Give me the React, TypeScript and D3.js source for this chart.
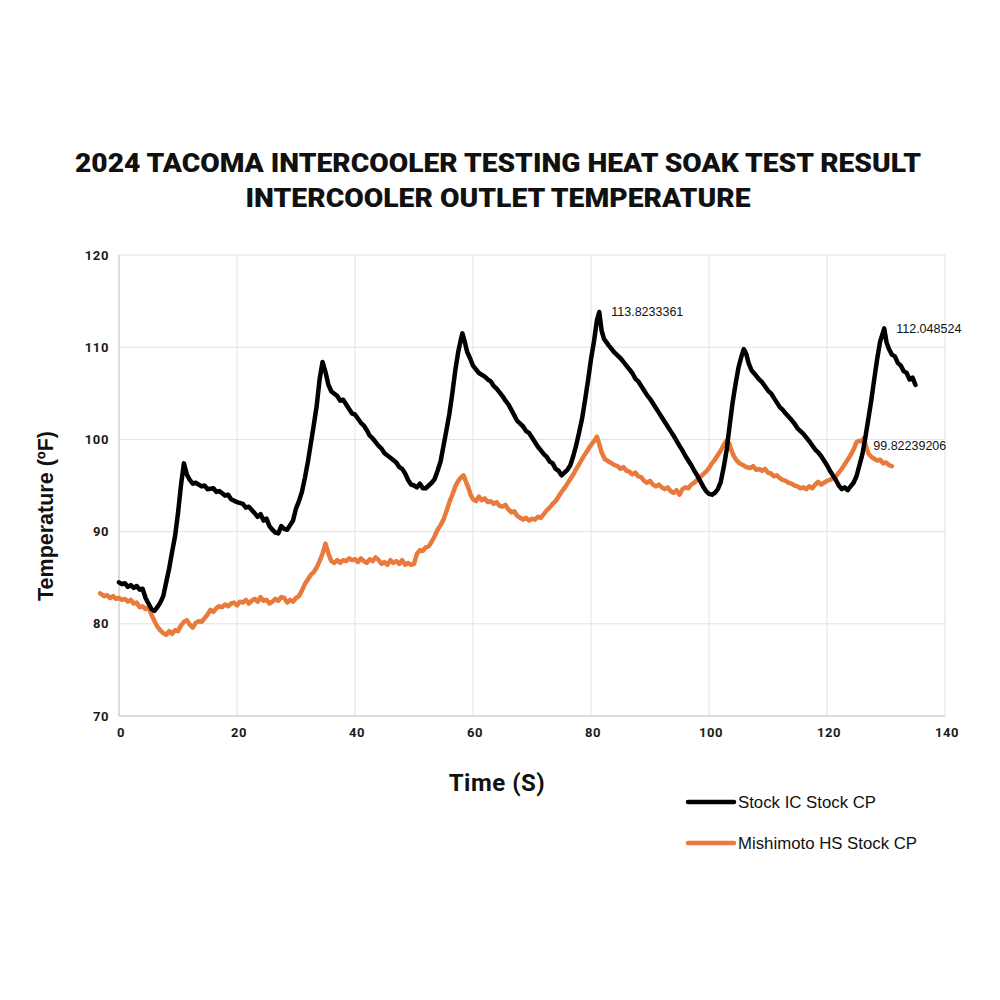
import React from 'react';
import * as d3 from 'd3';

// Stock IC Stock CP (black)
const stockTime = [
  0, 0.5, 1, 1.5, 2, 2.5, 3, 3.5, 4, 4.5, 5, 5.5, 6, 6.5, 7, 7.5, 8, 8.5, 9, 9.5, 10, 10.5, 11, 11.5, 12, 12.5,
  13, 14, 14.5, 15, 16, 16.5, 17, 18, 18.5, 19, 20, 21, 21.5, 22, 23, 23.5, 24, 24.5, 25, 25.5, 26, 26.5, 27,
  27.5, 28, 28.5, 29, 29.5, 30, 30.5, 31, 31.5, 32, 32.5, 33, 33.5, 34, 34.5, 35, 35.5, 36, 37, 37.5, 38, 39,
  39.5, 40, 41, 41.5, 42, 42.5, 43, 44, 44.5, 45, 46, 47, 47.5, 48, 48.5, 49, 49.5, 50, 50.5, 51, 51.5, 52,
  52.5, 53, 53.5, 54, 54.5, 55, 55.5, 56, 56.5, 57, 57.5, 58, 58.2, 58.6, 59, 59.5, 60, 60.5, 61, 62, 62.5,
  63, 63.5, 64, 65, 65.5, 66, 67, 67.5, 68, 68.5, 69, 69.5, 70, 71, 71.5, 72, 72.5, 73, 73.5, 74, 74.5, 75,
  75.5, 76, 76.5, 77, 77.5, 78, 78.5, 79, 79.5, 80, 80.5, 81, 81.4, 81.8, 82.2, 83, 84, 85, 85.5, 86, 87,
  87.5, 88, 89, 89.5, 90, 91, 91.5, 92, 93, 93.5, 94, 95, 95.5, 96, 97, 97.5, 98, 98.5, 99, 99.5, 100, 100.5,
  101, 101.5, 102, 102.5, 103, 103.5, 104, 104.5, 105, 105.5, 105.9, 106.3, 106.7, 107.2, 108, 108.5, 109,
  110, 110.5, 111, 112, 112.5, 113, 114, 114.5, 115, 116, 116.5, 117, 118, 118.5, 119, 120, 120.5, 121,
  121.5, 122, 122.5, 123, 123.5, 124, 124.5, 125, 125.5, 126, 126.5, 127, 127.5, 128, 128.5, 129, 129.4,
  129.7, 130.1, 130.5, 131, 131.5, 132, 132.5, 133, 133.5, 134, 134.5, 135,
];
const stockTemp = [
  84.5, 84.3, 84.4, 84.0, 84.2, 83.9, 84.1, 83.7, 83.8, 82.8, 82.2, 81.6, 81.4, 81.8, 82.3, 83.0, 84.5, 86.0,
  87.8, 89.5, 92.0, 95.0, 97.4, 96.2, 95.6, 95.2, 95.3, 94.9, 95.0, 94.6, 94.7, 94.3, 94.4, 93.9, 94.0, 93.5,
  93.2, 93.0, 92.6, 92.7, 92.0, 91.6, 91.9, 91.2, 91.4, 90.6, 90.2, 89.9, 89.8, 90.6, 90.3, 90.2, 90.7, 91.2,
  92.5, 93.3, 94.3, 95.8, 97.5, 99.5, 101.5, 103.6, 106.5, 108.4, 107.3, 105.9, 105.2, 104.7, 104.2, 104.3,
  103.3, 102.8, 102.7, 101.8, 101.5, 101.0, 100.4, 100.1, 99.3, 99.0, 98.5, 98.0, 97.5, 97.0, 96.8, 96.3,
  95.6, 95.1, 95.0, 94.8, 95.2, 94.7, 94.7, 95.0, 95.3, 95.7, 96.6, 97.6, 99.3, 101.0, 102.8, 105.0, 107.5,
  109.5, 111.0, 111.5, 110.6, 109.5, 108.8, 108.0, 107.6, 107.2, 106.8, 106.5, 106.3, 105.8, 105.5, 104.7,
  104.2, 103.8, 102.6, 102.0, 101.7, 101.4, 100.9, 100.7, 100.2, 99.2, 98.8, 98.4, 98.1, 97.6, 97.4, 96.8,
  96.6, 96.1, 96.4, 96.7, 97.2, 98.2, 99.4, 100.8, 102.3, 104.3, 106.4, 108.7, 110.6, 112.9, 113.82, 111.8,
  110.9, 110.2, 109.4, 108.8, 108.4, 108.0, 107.2, 106.6, 106.3, 105.3, 104.8, 104.4, 103.4, 102.9, 102.4,
  101.4, 100.9, 100.4, 99.3, 98.8, 98.2, 97.2, 96.6, 96.1, 95.5, 94.9, 94.4, 94.1, 94.0, 94.2, 94.6, 95.4,
  97.0, 98.9, 101.5, 104.0, 106.0, 107.8, 109.0, 109.8, 109.3, 108.3, 107.5, 106.9, 106.5, 106.2, 105.3,
  105.0, 104.5, 103.5, 103.2, 102.8, 102.1, 101.7, 101.2, 100.6, 100.2, 99.8, 98.9, 98.6, 98.2, 97.2, 96.6,
  96.1, 95.6, 95.0, 94.6, 94.8, 94.5, 94.9, 95.3, 96.0, 97.2, 98.4, 100.2, 102.2, 104.2, 106.5, 108.7, 110.6,
  111.4, 112.05, 110.5, 109.8, 109.2, 109.0, 108.3, 108.0, 107.4, 107.2, 106.5, 106.7, 105.9,
];

// Mishimoto HS Stock CP (orange)
const mishimotoTime = [
  -3.2, -2.5, -2, -1.5, -1, -0.5, 0, 0.5, 1, 1.5, 2, 2.5, 3, 3.5, 4, 4.5, 5, 5.5, 6, 6.5, 7, 7.5, 8, 8.5, 9,
  9.5, 10, 10.5, 11, 11.5, 12, 12.5, 13, 13.5, 14, 14.5, 15, 15.5, 16, 16.5, 17, 17.5, 18, 18.5, 19, 19.5,
  20, 20.5, 21, 21.5, 22, 22.5, 23, 23.5, 24, 24.5, 25, 25.5, 26, 26.5, 27, 27.5, 28, 28.5, 29, 29.5, 30,
  30.5, 31, 31.5, 32, 32.5, 33, 33.5, 34, 34.5, 35, 35.5, 36, 36.5, 37, 37.5, 38, 38.5, 39, 39.5, 40, 40.5,
  41, 41.5, 42, 42.5, 43, 43.5, 44, 44.5, 45, 45.5, 46, 46.5, 47, 47.5, 48, 48.5, 49, 49.5, 50, 50.5, 51,
  51.5, 52, 52.5, 53, 53.5, 54, 54.5, 55, 55.5, 56, 56.5, 57, 57.5, 58, 58.4, 58.8, 59.2, 59.6, 60, 60.5, 61,
  61.5, 62, 62.5, 63, 63.5, 64, 64.5, 65, 65.5, 66, 66.5, 67, 67.5, 68, 68.5, 69, 69.5, 70, 70.5, 71, 71.5,
  72, 72.5, 73, 73.5, 74, 74.5, 75, 75.5, 76, 76.5, 77, 77.5, 78, 78.5, 79, 79.5, 80, 80.5, 81, 81.4, 81.8,
  82.3, 83, 83.5, 84, 84.5, 85, 85.5, 86, 86.5, 87, 87.5, 88, 88.5, 89, 89.5, 90, 90.5, 91, 91.5, 92, 92.5,
  93, 93.5, 94, 94.5, 95, 95.5, 96, 96.5, 97, 97.5, 98, 98.5, 99, 99.5, 100, 100.5, 101, 101.5, 102, 102.5,
  103, 103.4, 103.8, 104.2, 104.7, 105.2, 105.8, 106.3, 107, 107.5, 108, 108.5, 109, 109.5, 110, 110.5, 111,
  111.5, 112, 112.5, 113, 113.5, 114, 114.5, 115, 115.5, 116, 116.5, 117, 117.5, 118, 118.5, 119, 119.5,
  120, 120.5, 121, 121.5, 122, 122.5, 123, 123.5, 124, 124.5, 125, 125.3, 125.8, 126.2, 126.6, 127, 127.5,
  128, 128.5, 129, 129.5, 130, 130.5, 131,
];
const mishimotoTemp = [
  83.3, 83.0, 83.1, 82.8, 83.0, 82.7, 82.8, 82.6, 82.7, 82.4, 82.6, 82.2, 82.3, 81.8, 81.9, 81.6, 81.8, 81.0,
  80.3, 79.7, 79.3, 79.0, 78.8, 79.2, 78.9, 79.3, 79.2, 79.8, 80.2, 80.4, 79.9, 79.6, 80.1, 80.3, 80.2, 80.6,
  81.0, 81.5, 81.3, 81.7, 81.9, 81.8, 82.1, 81.9, 82.2, 82.3, 82.0, 82.4, 82.3, 82.6, 82.2, 82.5, 82.7, 82.4,
  82.9, 82.5, 82.6, 82.2, 82.4, 82.7, 82.5, 82.9, 82.8, 82.3, 82.6, 82.4, 82.8, 83.0, 83.6, 84.3, 84.8, 85.3,
  85.6, 86.1, 86.8, 87.6, 88.7, 87.6, 86.8, 86.6, 86.9, 86.6, 86.9, 86.8, 87.1, 86.9, 87.0, 86.7, 87.1, 86.8,
  86.6, 87.0, 86.8, 87.2, 86.9, 86.5, 86.7, 86.4, 86.9, 86.6, 86.8, 86.5, 86.9, 86.4, 86.6, 86.4, 86.5, 87.6,
  88.0, 87.9, 88.3, 88.4, 88.9, 89.5, 90.2, 90.7, 91.3, 92.2, 93.2, 94.0, 94.9, 95.5, 95.9, 96.1, 95.4, 94.8,
  94.0, 93.5, 93.3, 93.8, 93.4, 93.6, 93.2, 93.3, 93.0, 93.2, 92.8, 92.7, 92.9, 92.4, 92.1, 92.2, 91.7, 91.5,
  91.3, 91.5, 91.2, 91.4, 91.3, 91.6, 91.5, 91.9, 92.3, 92.6, 93.0, 93.3, 93.8, 94.3, 94.7, 95.2, 95.7, 96.2,
  96.8, 97.3, 97.9, 98.4, 98.9, 99.4, 99.8, 100.3, 99.5, 98.6, 97.9, 97.6, 97.4, 97.2, 97.1, 96.8, 97.0, 96.6,
  96.5, 96.2, 96.4, 96.0, 95.9, 95.5, 95.3, 95.5, 95.1, 94.9, 95.1, 94.8, 94.6, 94.8, 94.4, 94.2, 94.5, 94.0,
  94.6, 94.8, 94.7, 95.1, 95.3, 95.6, 95.9, 96.2, 96.5, 96.9, 97.4, 97.8, 98.3, 98.8, 99.4, 99.9, 99.6, 98.8,
  98.2, 97.7, 97.4, 97.2, 97.0, 96.9, 97.1, 96.7, 96.8, 96.6, 96.8, 96.4, 96.3, 96.0, 96.1, 95.8, 95.6, 95.5,
  95.3, 95.2, 95.0, 94.9, 94.7, 94.8, 94.6, 94.9, 94.7, 95.1, 95.4, 95.1, 95.3, 95.5, 95.6, 95.8, 96.0, 96.4,
  96.8, 97.3, 97.8, 98.3, 98.9, 99.7, 99.82, 99.8, 100.1, 99.3, 98.5, 98.1, 97.9, 97.7, 97.8, 97.4, 97.5,
  97.2, 97.1,
];

const xTicks = [0, 20, 40, 60, 80, 100, 120, 140];
const yTicks = [70, 80, 90, 100, 110, 120];

const seriesNames = ['Stock IC Stock CP', 'Mishimoto HS Stock CP'];
const seriesColors = ['#000000', '#ea7a3b'];

// labelled points: [series index, time, text]
const callouts: [number, number, string][] = [
  [0, 81.4, '113.8233361'],
  [0, 129.7, '112.048524'],
  [1, 125.3, '99.82239206'],
];

const titleLines = ['2024 TACOMA INTERCOOLER TESTING HEAT SOAK TEST RESULT', 'INTERCOOLER OUTLET TEMPERATURE'];

const App: React.FC = () => {
  const x = d3.scaleLinear().domain([0, 140]).range([119, 945]);
  const y = d3.scaleLinear().domain([70, 120]).range([716, 255]);

  const series = [
    stockTime.map((t, i) => ({ t, v: stockTemp[i] })),
    mishimotoTime.map((t, i) => ({ t, v: mishimotoTemp[i] })),
  ];

  const line = d3
    .line<{ t: number; v: number }>()
    .x(d => x(d.t))
    .y(d => y(d.v));

  const tickFont = 'Roboto, "DejaVu Sans", sans-serif';
  const labelFont = '"Liberation Sans", Arial, sans-serif';

  return (
    <svg width={1000} height={1000} style={{ position: 'absolute', left: 0, top: 0, background: '#fff' }}>
      <rect width={1000} height={1000} fill="#fff" />

      {/* title */}
      <text x={498} y={172} textAnchor="middle" fontFamily={tickFont} fontWeight={900} fontSize={25}
        textLength={846} lengthAdjust="spacingAndGlyphs" fill="#111">{titleLines[0]}</text>
      <text x={498} y={207} textAnchor="middle" fontFamily={tickFont} fontWeight={900} fontSize={25}
        textLength={505} lengthAdjust="spacingAndGlyphs" fill="#111">{titleLines[1]}</text>

      {/* grid */}
      <g stroke="#e2e2e2" strokeWidth={1}>
        {yTicks.map(v => (
          <line key={'gy' + v} x1={x(0)} x2={x(140)} y1={y(v)} y2={y(v)} />
        ))}
        {xTicks.map(t => (
          <line key={'gx' + t} x1={x(t)} x2={x(t)} y1={y(70)} y2={y(120)} />
        ))}
      </g>
      <line x1={x(0)} x2={x(0)} y1={y(70)} y2={y(120)} stroke="#d6d6d6" strokeWidth={1.5} />
      <line x1={x(0)} x2={x(140)} y1={y(70)} y2={y(70)} stroke="#d6d6d6" strokeWidth={1.5} />

      {/* tick labels */}
      <g fontFamily={tickFont} fontWeight={700} fontSize={13} fill="#1a1a1a">
        {yTicks.map(v => (
          <text key={'ty' + v} x={109} y={y(v)} dy="0.35em" textAnchor="end" letterSpacing={0.6}>{v}</text>
        ))}
        {xTicks.map(t => (
          <text key={'tx' + t} x={x(t) + 2} y={737} textAnchor="middle" letterSpacing={0.6}>{t}</text>
        ))}
      </g>

      {/* axis titles */}
      <text transform="translate(53,516) rotate(-90)" textAnchor="middle" fontFamily={labelFont}
        fontWeight={700} fontSize={21.5} fill="#111">Temperature (ºF)</text>
      <text x={497} y={791} textAnchor="middle" fontFamily={tickFont} fontWeight={700} fontSize={24}
        fill="#111" letterSpacing={0.5}>Time (S)</text>

      {/* series, orange under black */}
      {[1, 0].map(i => (
        <path key={'s' + i} d={line(series[i]) || ''} fill="none" stroke={seriesColors[i]} strokeWidth={4.5}
          strokeLinejoin="round" strokeLinecap="round" />
      ))}

      {/* value callouts */}
      <g fontFamily={labelFont} fontSize={12.5} fill="#111">
        {callouts.map(([si, t, label]) => {
          const p = series[si].find(d => d.t === t)!;
          return (
            <text key={label} x={x(t) + (si === 1 ? 15 : 12)} y={y(p.v) + (si === 1 ? 5 : 0)} dy="0.35em">
              {label}
            </text>
          );
        })}
      </g>

      {/* legend */}
      {seriesNames.map((name, i) => (
        <g key={name} transform={`translate(688,${802 + i * 41})`}>
          <line x1={0} x2={46} y1={0} y2={0} stroke={seriesColors[i]} strokeWidth={4.5} strokeLinecap="round" />
          <text x={50} y={0} dy="0.35em" fontFamily={labelFont} fontSize={16.8} fill="#111">{name}</text>
        </g>
      ))}
    </svg>
  );
};

export default App;
